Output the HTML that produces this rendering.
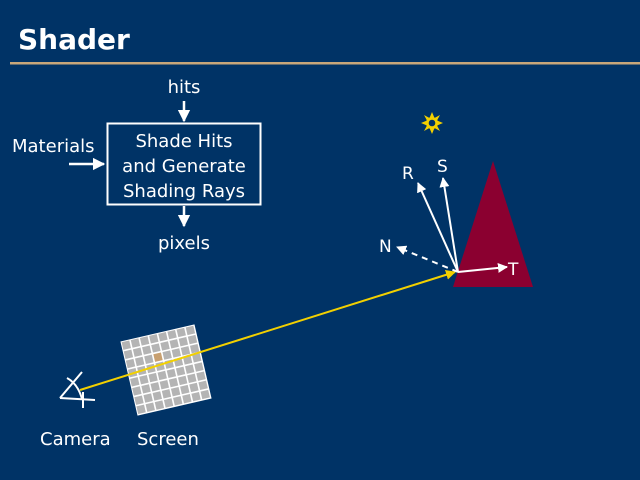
<!DOCTYPE html>
<html><head><style>
html,body{margin:0;padding:0;background:#003366;}
svg{display:block;}
text{font-family:"DejaVu Sans","Liberation Sans",sans-serif;fill:#fff;}
</style></head><body>
<svg width="640" height="480" viewBox="0 0 640 480" xmlns="http://www.w3.org/2000/svg">
<defs>
<marker id="ah" viewBox="0 0 10 10" refX="9" refY="5" markerWidth="5" markerHeight="5" orient="auto"><path d="M0,0L10,5L0,10z" fill="#fff"/></marker>
<marker id="ay" viewBox="0 0 10 10" refX="9" refY="5" markerWidth="5" markerHeight="5" orient="auto"><path d="M0,0L10,5L0,10z" fill="#f2d000"/></marker>
</defs>
<rect width="640" height="480" fill="#003366"/>
<text x="18" y="49" font-size="28" font-weight="bold">Shader</text>
<rect x="10" y="62" width="630" height="2.5" fill="#c8a77a"/>

<text x="184" y="93" font-size="18" text-anchor="middle">hits</text>
<line x1="184" y1="101" x2="184" y2="121" stroke="#fff" stroke-width="2.5" marker-end="url(#ah)"/>
<rect x="107.5" y="123.5" width="153" height="81" fill="none" stroke="#fff" stroke-width="2"/>
<text x="184" y="147" font-size="18" text-anchor="middle">Shade Hits</text>
<text x="184" y="172" font-size="18" text-anchor="middle">and Generate</text>
<text x="184" y="197" font-size="18" text-anchor="middle">Shading Rays</text>
<text x="12" y="152" font-size="18">Materials</text>
<line x1="69" y1="164" x2="104" y2="164" stroke="#fff" stroke-width="2.5" marker-end="url(#ah)"/>
<line x1="184" y1="206" x2="184" y2="226" stroke="#fff" stroke-width="2.5" marker-end="url(#ah)"/>
<text x="184" y="249" font-size="18" text-anchor="middle">pixels</text>

<polygon points="493,161 453,287 533,287" fill="#8b0030"/>
<g transform="translate(432,123)" fill="#f2d000">
<polygon points="0,-11 2.5,-5 8,-8 5,-2.5 11,0 5,2.5 8,8 2.5,5 0,11 -2.5,5 -8,8 -5,2.5 -11,0 -5,-2.5 -8,-8 -2.5,-5"/>
<circle r="6"/><circle r="3.3" fill="#003366"/>
</g>

<g transform="translate(166,370) rotate(-13)">
<rect x="-38" y="-38" width="76" height="76" fill="#fff"/>
</g>
<g transform="translate(166,370) rotate(-13)" fill="#b4b4b4" id="grid"></g>

<line x1="80" y1="390" x2="455" y2="272" stroke="#f2d000" stroke-width="2" marker-end="url(#ay)"/>
<line x1="458" y1="272" x2="418" y2="183" stroke="#fff" stroke-width="2" marker-end="url(#ah)"/>
<line x1="458" y1="272" x2="443" y2="178" stroke="#fff" stroke-width="2" marker-end="url(#ah)"/>
<line x1="458" y1="272" x2="397" y2="247" stroke="#fff" stroke-width="2" stroke-dasharray="6,5" marker-end="url(#ah)"/>
<line x1="458" y1="272" x2="507" y2="267" stroke="#fff" stroke-width="2" marker-end="url(#ah)"/>
<text x="402" y="179" font-size="17">R</text>
<text x="437" y="172" font-size="17">S</text>
<text x="379" y="252" font-size="17">N</text>
<text x="508" y="275" font-size="17">T</text>

<g stroke="#fff" stroke-width="2" fill="none">
<line x1="60" y1="398" x2="82" y2="372"/>
<line x1="60" y1="398" x2="95" y2="400"/>
<path d="M67,378 Q78,384 82,399"/>
<line x1="83" y1="392" x2="83" y2="408"/>
</g>
<text x="40" y="445" font-size="18">Camera</text>
<text x="137" y="445" font-size="18">Screen</text>
</svg>
<script>
var g=document.getElementById('grid'),ns="http://www.w3.org/2000/svg";
for(var i=0;i<8;i++)for(var j=0;j<8;j++){var r=document.createElementNS(ns,'rect');
r.setAttribute('x',-37+i*9.4);r.setAttribute('y',-37+j*9.4);r.setAttribute('width',7.8);r.setAttribute('height',7.8);
if(i==3&&j==2)r.setAttribute('fill','#c8a070');g.appendChild(r);}
</script>
</body></html>
